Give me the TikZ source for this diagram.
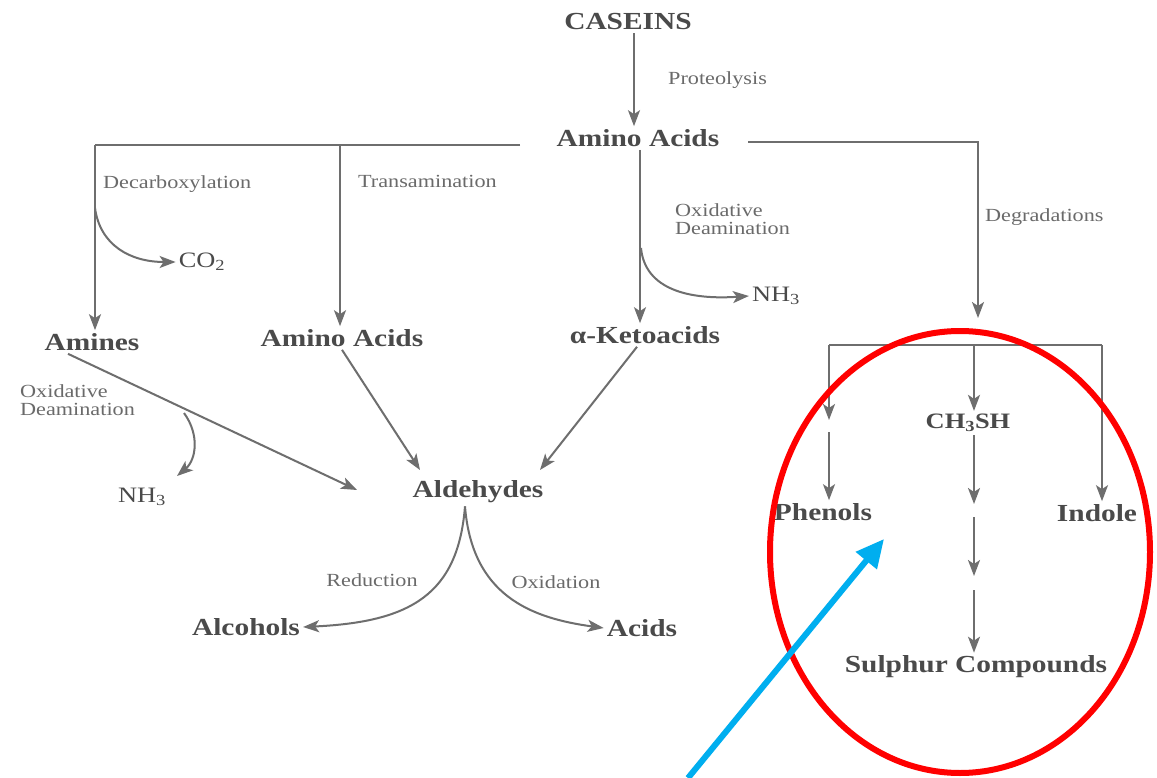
\documentclass[tikz,border=0pt]{standalone}
\usepackage{fontspec}
\setmainfont[FakeStretch=1.2]{Liberation Serif}
\usepackage{tikz}
\usetikzlibrary{arrows.meta}
\definecolor{txtgray}{HTML}{4A4A4A}
\definecolor{labgray}{HTML}{6A6A6A}
\definecolor{lngray}{HTML}{6E6E6E}
\definecolor{markred}{HTML}{FF0000}
\definecolor{markblue}{HTML}{00AEEF}

\begin{document}
\begin{tikzpicture}[x=1pt,y=-1pt,
        prod/.style={font=\fontsize{24.5}{26}\selectfont\bfseries, text=txtgray, inner sep=3pt},
        lab/.style={font=\fontsize{18.5}{18}\selectfont, text=labgray, align=left, inner sep=0pt},
        ln/.style={draw=lngray, line width=2pt},
        arr/.style={ln, -{Stealth[length=16pt,width=12pt,inset=4pt]}}]
    \useasboundingbox[fill=white] (0,0) rectangle (1157,778);

    % products
    \node[prod] (caseins) at (628,22) {CASEINS};
    \node[prod] (aa) at (638,138) {Amino Acids};
    \node[prod] (amines) at (92,342) {Amines};
    \node[prod] (aa2) at (342,338) {Amino Acids};
    \node[prod] (keto) at (645,335) {α-Ketoacids};
    \node[prod, font=\fontsize{22}{24}\selectfont] (co2) at (202,262) {CO\textsubscript{2}};
    \node[prod, font=\fontsize{22}{24}\selectfont] (nhb) at (776,296) {NH\textsubscript{3}};
    \node[prod, font=\fontsize{22}{24}\selectfont] (nha) at (142,497) {NH\textsubscript{3}};
    \node[prod] (ald) at (478,492) {Aldehydes};
    \node[prod] (alc) at (246,627) {Alcohols};
    \node[prod] (acids) at (642,628) {Acids};
    \node[prod, font=\fontsize{22}{24}\selectfont\bfseries] (ch3sh) at (968,423) {CH\textsubscript{3}SH};
    \node[prod] (phenols) at (823,512) {Phenols};
    \node[prod] (indole) at (1097,513) {Indole};
    \node[prod] (sulphur) at (976,667) {Sulphur Compounds};

    % labels
    \node[lab, anchor=west] (prot) at (668,80) {Proteolysis};
    \node[lab, anchor=west] (decarb) at (103,184) {Decarboxylation};
    \node[lab, anchor=west] (trans) at (358,181) {Transamination};
    \node[lab, anchor=west] (oxdb) at (675,219) {Oxidative\\Deamination};
    \node[lab, anchor=west] (degr) at (985,217) {Degradations};
    \node[lab, anchor=west] (oxda) at (20,400) {Oxidative\\Deamination};
    \node[lab] (red) at (372,580) {Reduction};
    \node[lab] (oxi) at (556,582) {Oxidation};

    % junctions
    \coordinate (tl) at (95,145);
    \coordinate (tm) at (340,145);
    \coordinate (tr) at (520,145);
    \coordinate (rl) at (748,142);
    \coordinate (rc) at (978,142);
    \coordinate (deg) at (978,318);
    \coordinate (bl) at (829,345);
    \coordinate (bm) at (974,345);
    \coordinate (br) at (1102,345);

    \draw[arr] (caseins.south -| 634,0) -- (aa.north -| 634,0);
    \draw[ln] (tr) -- (tl);
    \draw[arr] (tl) -- (tl |- amines.north);
    \draw[arr] (tm) -- (tm |- aa2.north);
    \draw[arr] (aa.south -| 640,0) -- (keto.north -| 640,0);
    \draw[arr] (rl) -- (rc) -- (deg);
    \draw[arr] (95,208) .. controls (100,245) and (130,262) .. (co2.west);
    \draw[arr] (641,248) .. controls (645,290) and (690,300) .. (nhb.west);

    % degradation products
    \draw[ln] (bl) -- (br);
    \draw[arr] (bl) -- (829,420);
    \draw[arr] (829,432) -- (phenols.north -| 829,0);
    \draw[arr] (bm) -- (ch3sh.north -| bm);
    \draw[arr] (ch3sh.south -| bm) -- (974,504);
    \draw[arr] (974,517) -- (974,576);
    \draw[arr] (974,590) -- (sulphur.north -| bm);
    \draw[arr] (br) -- (br |- indole.north);

    % towards aldehydes
    \draw[arr] (amines.south -| 68,0) -- (357,490);
    \draw[arr] (184,413) .. controls (200,435) and (196,460) .. (177,476);
    \draw[arr] (aa2.south) -- (420,470);
    \draw[arr] (keto.south -| 637,0) -- (540,470);
    \draw[arr] (ald.south -| 465,0) .. controls (458,595) and (410,622) .. (alc.east);
    \draw[arr] (ald.south -| 465,0) .. controls (472,595) and (530,618) .. (acids.west);

    % highlight
    \draw[markred, line width=6pt] (960,552) ellipse [x radius=190pt, y radius=221pt];
    \draw[markblue, line width=6pt, -{Triangle[length=28pt,width=26pt]}] (688,778) -- (884,539);
\end{tikzpicture}
\end{document}
